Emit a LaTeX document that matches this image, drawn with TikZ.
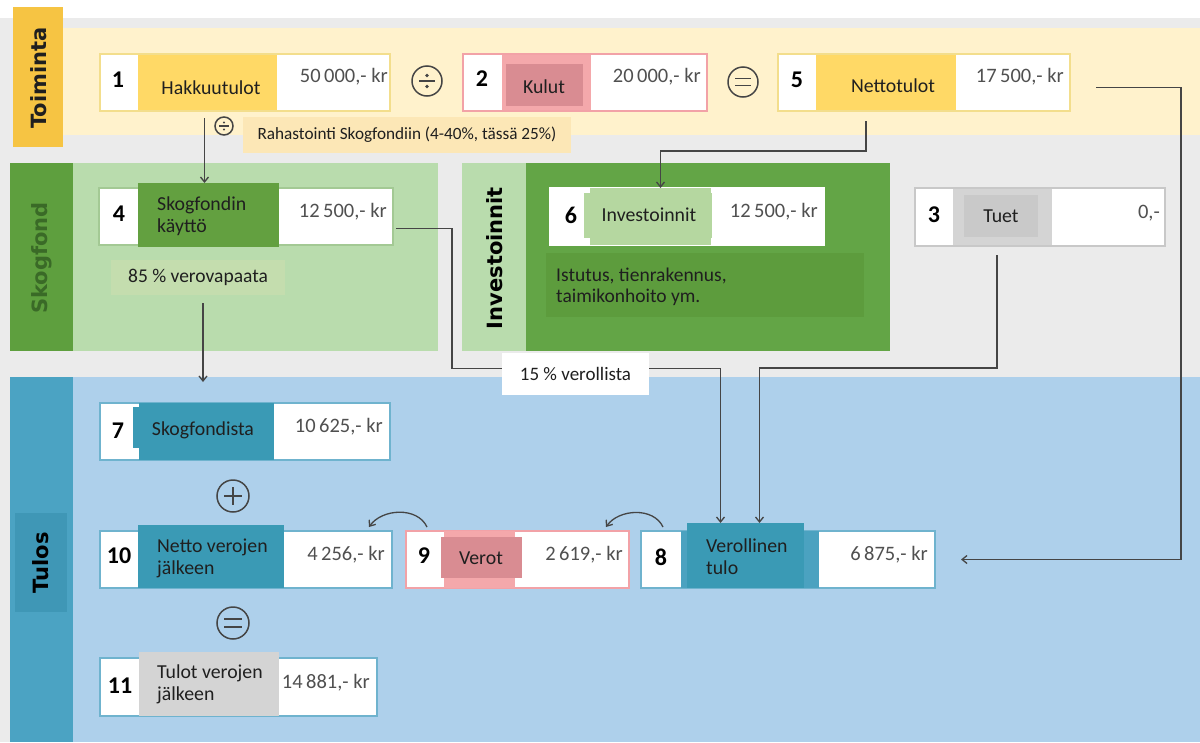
\documentclass[tikz,border=0pt]{standalone}
\usepackage{fontspec}
\setmainfont{Carlito}
\newfontfamily\hdrfont{DejaVu Sans}
\usetikzlibrary{arrows.meta,calc}
\definecolor{bggray}{HTML}{EBEBEB}
\definecolor{yband}{HTML}{FFF2CC}
\definecolor{ylabel}{HTML}{F6C443}
\definecolor{ynote}{HTML}{FCE7B6}
\definecolor{gold}{HTML}{FFD966}
\definecolor{goldborder}{HTML}{F3DE8C}
\definecolor{pinkm}{HTML}{F4A8AB}
\definecolor{pinkin}{HTML}{D98C92}
\definecolor{pinkborder}{HTML}{F2A2A7}
\definecolor{gdark}{HTML}{5E9F3E}
\definecolor{gbox}{HTML}{63A040}
\definecolor{gmid}{HTML}{63A546}
\definecolor{gnotedark}{HTML}{5D9C3D}
\definecolor{glight}{HTML}{B9DCAD}
\definecolor{gpale}{HTML}{B5D7A0}
\definecolor{gnote}{HTML}{C4DDAE}
\definecolor{gtext}{HTML}{3A6A27}
\definecolor{gborder}{HTML}{A3C994}
\definecolor{bband}{HTML}{AED0EB}
\definecolor{bstrip}{HTML}{4BA3C3}
\definecolor{blabel}{HTML}{3F97B6}
\definecolor{tealc}{HTML}{3A9AB5}
\definecolor{teallight}{HTML}{4BA2C0}
\definecolor{bborder}{HTML}{6FB3CE}
\definecolor{grayin}{HTML}{C9C9C9}
\definecolor{graym}{HTML}{D4D4D4}
\definecolor{grayborder}{HTML}{C8C8C8}
\definecolor{linec}{HTML}{454545}
\definecolor{valc}{HTML}{505050}
\definecolor{txt}{HTML}{1F1F1F}
\begin{document}
\begin{tikzpicture}[x=1pt,y=-1pt,
  rect/.style={anchor=north west, inner sep=0pt, outer sep=0pt, draw=none},
  box/.style={rect, fill=white, line width=1.2pt},
  numt/.style={font=\fontsize{24}{26}\selectfont\bfseries, text=black, inner sep=0pt},
  lbl/.style={font=\fontsize{19.8}{22}\selectfont, text=txt, inner sep=0pt},
  lbltwo/.style={lbl, align=left, anchor=west},
  val/.style={font=\fontsize{20.5}{22}\selectfont, text=valc, inner sep=0pt, anchor=east},
  hdr/.style={font=\hdrfont\bfseries\fontsize{21}{24}\selectfont, rotate=90, inner sep=0pt},
  note/.style={inner sep=0pt, outer sep=0pt, text=txt},
  conn/.style={draw=linec, line width=1.3pt, -{Straight Barb[length=5pt,width=8pt]}},
  opc/.style={circle, draw=linec, line width=1.5pt, inner sep=0pt, minimum size=#1},
  opl/.style={draw=linec, line width=1.7pt},
]
\useasboundingbox (0,0) rectangle (1200,742);
% backgrounds
\fill[white] (0,0) rectangle (1200,742);
\fill[bggray] (0,18) rectangle (1200,742);
\fill[yband] (13,28) rectangle (1200,135);
\fill[glight] (73,163) rectangle (438,351);
\fill[gdark] (10,163) rectangle (73,351);
\fill[gmid] (526,163) rectangle (890,351);
\fill[glight] (462,163) rectangle (526,351);
\fill[gnotedark] (546,253) rectangle (864,317);
\fill[bband] (73,377) rectangle (1200,742);
\fill[bstrip] (10,377) rectangle (73,742);
% band labels
\node[rect, fill=ylabel, minimum width=50pt, minimum height=140pt] (toil) at (13,7) {};
\node[hdr, text=txt] (toit) at (39,78) {Toiminta};
\node[hdr, text=gtext] (skot) at (42,258) {Skogfond};
\node[hdr, text=black] (invt) at (495,258) {Investoinnit};
\node[rect, fill=blabel, minimum width=52pt, minimum height=99pt] (tull) at (15,513) {};
\node[hdr, text=black] (tult) at (41,563) {Tulos};
% notes
\node[note, fill=ynote, minimum width=328pt, minimum height=36pt, font=\fontsize{17.2}{19}\selectfont] (rah) at (407,135) {Rahastointi Skogfondiin (4-40\%, tässä 25\%)};
\node[note, fill=gnote, minimum width=174pt, minimum height=35pt, font=\fontsize{19.5}{21}\selectfont] (n85) at (198,277.5) {85 \% verovapaata};
\node[lbltwo, font=\fontsize{19.5}{21}\selectfont] (istt) at (556,287) {Istutus, tienrakennus,\\taimikonhoito ym.};

% ---- box 1
\node[box, draw=goldborder, minimum width=290pt, minimum height=57pt] (b1) at (100,54) {};
\node[rect, fill=gold, minimum width=139pt, minimum height=55pt] (b1m) at (138,55) {};
\node[numt] (b1n) at (118,80) {1};
\node[lbl] (b1l) at (211,88) {Hakkuutulot};
\node[val] (b1v) at (388,77) {50\,000,- kr};
% ---- box 2
\node[box, draw=pinkborder, minimum width=244pt, minimum height=57pt] (b2) at (463,54) {};
\node[rect, fill=pinkm, minimum width=89pt, minimum height=55pt] (b2m) at (502,55) {};
\node[rect, fill=pinkin, minimum width=77pt, minimum height=42pt] (b2i) at (506,64) {};
\node[numt] (b2n) at (482,79) {2};
\node[lbl] (b2l) at (544,87) {Kulut};
\node[val] (b2v) at (701,77) {20\,000,- kr};
% ---- box 5
\node[box, draw=goldborder, minimum width=292pt, minimum height=57pt] (b5) at (778,54) {};
\node[rect, fill=gold, minimum width=140pt, minimum height=55pt] (b5m) at (816,55) {};
\node[numt] (b5n) at (797,80) {5};
\node[lbl] (b5l) at (893,86) {Nettotulot};
\node[val] (b5v) at (1064,77) {17\,500,- kr};
% ---- box 4
\node[box, draw=gborder, minimum width=294pt, minimum height=57pt] (b4) at (99,188) {};
\node[rect, fill=gbox, minimum width=141pt, minimum height=64pt] (b4m) at (138,183) {};
\node[numt] (b4n) at (119,214) {4};
\node[lbltwo] (b4l) at (157,216) {Skogfondin\\käyttö};
\node[val] (b4v) at (387,212) {12\,500,- kr};
% ---- box 6
\node[box, draw=white, minimum width=274pt, minimum height=57pt] (b6) at (550,188) {};
\node[rect, fill=gpale, minimum width=121pt, minimum height=57pt] (b6m) at (590,188) {};
\node[rect, fill=gpale, minimum width=128pt, minimum height=45pt] (b6m2) at (584,193) {};
\node[numt] (b6n) at (571,215) {6};
\node[lbl] (b6l) at (649,215) {Investoinnit};
\node[val] (b6v) at (818,212) {12\,500,- kr};
% ---- box 3
\node[box, draw=grayborder, minimum width=250pt, minimum height=58pt] (b3) at (915,188) {};
\node[rect, fill=graym, minimum width=99pt, minimum height=56pt] (b3m) at (953,189) {};
\node[rect, fill=grayin, minimum width=74pt, minimum height=42pt] (b3i) at (964,195) {};
\node[numt] (b3n) at (934,215) {3};
\node[lbl] (b3l) at (1001,216) {Tuet};
\node[val] (b3v) at (1160,213) {0,-};
% ---- box 7
\node[box, draw=bborder, minimum width=290pt, minimum height=57pt] (b7) at (100,403) {};
\node[rect, fill=tealc, minimum width=135pt, minimum height=57pt] (b7m) at (139,403) {};
\node[rect, fill=tealc, minimum width=141pt, minimum height=41pt] (b7m2) at (133,407) {};
\node[numt] (b7n) at (118,431) {7};
\node[lbl] (b7l) at (203,430) {Skogfondista};
\node[val] (b7v) at (383,427) {10\,625,- kr};
% ---- box 10
\node[box, draw=bborder, minimum width=292pt, minimum height=57pt] (b10) at (100,531) {};
\node[rect, fill=tealc, minimum width=146pt, minimum height=63pt] (b10m) at (138,525) {};
\node[numt] (b10n) at (119,556) {10};
\node[lbltwo] (b10l) at (157,558) {Netto verojen\\jälkeen};
\node[val] (b10v) at (385,555) {4\,256,- kr};
% ---- box 9
\node[box, draw=pinkborder, minimum width=223pt, minimum height=57pt] (b9) at (406,531) {};
\node[rect, fill=pinkm, minimum width=71pt, minimum height=57pt] (b9m) at (444,531) {};
\node[rect, fill=pinkin, minimum width=81pt, minimum height=41pt] (b9i) at (441,537) {};
\node[numt] (b9n) at (424,556) {9};
\node[lbl] (b9l) at (481,558) {Verot};
\node[val] (b9v) at (623,555) {2\,619,- kr};
% ---- box 8
\node[box, draw=bborder, minimum width=294pt, minimum height=57pt] (b8) at (641,531) {};
\node[rect, fill=teallight, minimum width=138pt, minimum height=57pt] (b8m2) at (681,531) {};
\node[rect, fill=tealc, minimum width=117pt, minimum height=65pt] (b8m) at (687,523) {};
\node[numt] (b8n) at (661,557) {8};
\node[lbltwo] (b8l) at (706,557) {Verollinen\\tulo};
\node[val] (b8v) at (928,555) {6\,875,- kr};
% ---- box 11
\node[box, draw=bborder, minimum width=277pt, minimum height=58pt] (b11) at (100,658) {};
\node[rect, fill=graym, minimum width=140pt, minimum height=64pt] (b11m) at (139,652) {};
\node[numt] (b11n) at (120,686) {11};
\node[lbltwo] (b11l) at (157,684) {Tulot verojen\\jälkeen};
\node[val] (b11v) at (370,683) {14\,881,- kr};

% operators
\node[opc=30pt] (op1) at (427,81) {};
\draw[opl] ($(op1)+(-8,0)$) -- ($(op1)+(8,0)$);
\fill[linec] ($(op1)+(0,-5.5)$) circle (1.8pt) ($(op1)+(0,5.5)$) circle (1.8pt);
\node[opc=30pt] (op2) at (743,82) {};
\draw[opl] ($(op2)+(-8,-3.5)$) -- ($(op2)+(8,-3.5)$) ($(op2)+(-8,3.5)$) -- ($(op2)+(8,3.5)$);
\node[opc=18pt] (op3) at (224,126) {};
\draw[draw=linec, line width=1.1pt] ($(op3)+(-5,0)$) -- ($(op3)+(5,0)$);
\fill[linec] ($(op3)+(0,-3.5)$) circle (1.2pt) ($(op3)+(0,3.5)$) circle (1.2pt);
\node[opc=32pt] (op4) at (233,496) {};
\draw[opl] ($(op4)+(-9,0)$) -- ($(op4)+(9,0)$) ($(op4)+(0,-9)$) -- ($(op4)+(0,9)$);
\node[opc=32pt] (op5) at (233,623) {};
\draw[opl] ($(op5)+(-9,-4)$) -- ($(op5)+(9,-4)$) ($(op5)+(-9,4)$) -- ($(op5)+(9,4)$);

% connectors
\coordinate (t7) at (203,382);
\draw[conn] ([xshift=-4pt,yshift=-7pt]b1.south -| b4m.north) -- ([xshift=-4pt]b4m.north);
\draw[conn] ([xshift=-58pt,yshift=-10pt]b5.south) -- ++(0,30) -| ([xshift=10pt]b6m.north);
\draw[conn] ([xshift=5pt,yshift=-8pt]n85.south) -- (t7);
\draw[conn] ([xshift=3pt,yshift=-12pt]b4.east) -- ++(56,0) -- ++(0,140) -| ([xshift=-25pt]b8m.north);
\draw[conn] ([xshift=-43pt,yshift=-9pt]b3.south) -- ++(0,113) -| ([xshift=14pt]b8m.north);
\draw[conn] ([xshift=26pt,yshift=-5pt]b5.east) -- ++(85,0) |- ([xshift=26pt]b8.east);
\draw[conn] ([xshift=22pt,yshift=4pt]b8.north west) to[out=115,in=55] ([xshift=-23pt,yshift=4pt]b9.north east);
\draw[conn] ([xshift=21pt,yshift=4pt]b9.north west) to[out=115,in=55] ([xshift=-23pt,yshift=4pt]b10.north east);
\node[note, fill=white, minimum width=147pt, minimum height=42pt, font=\fontsize{19}{21}\selectfont] (n15) at (575.5,374) {15 \% verollista};
\end{tikzpicture}
\end{document}
